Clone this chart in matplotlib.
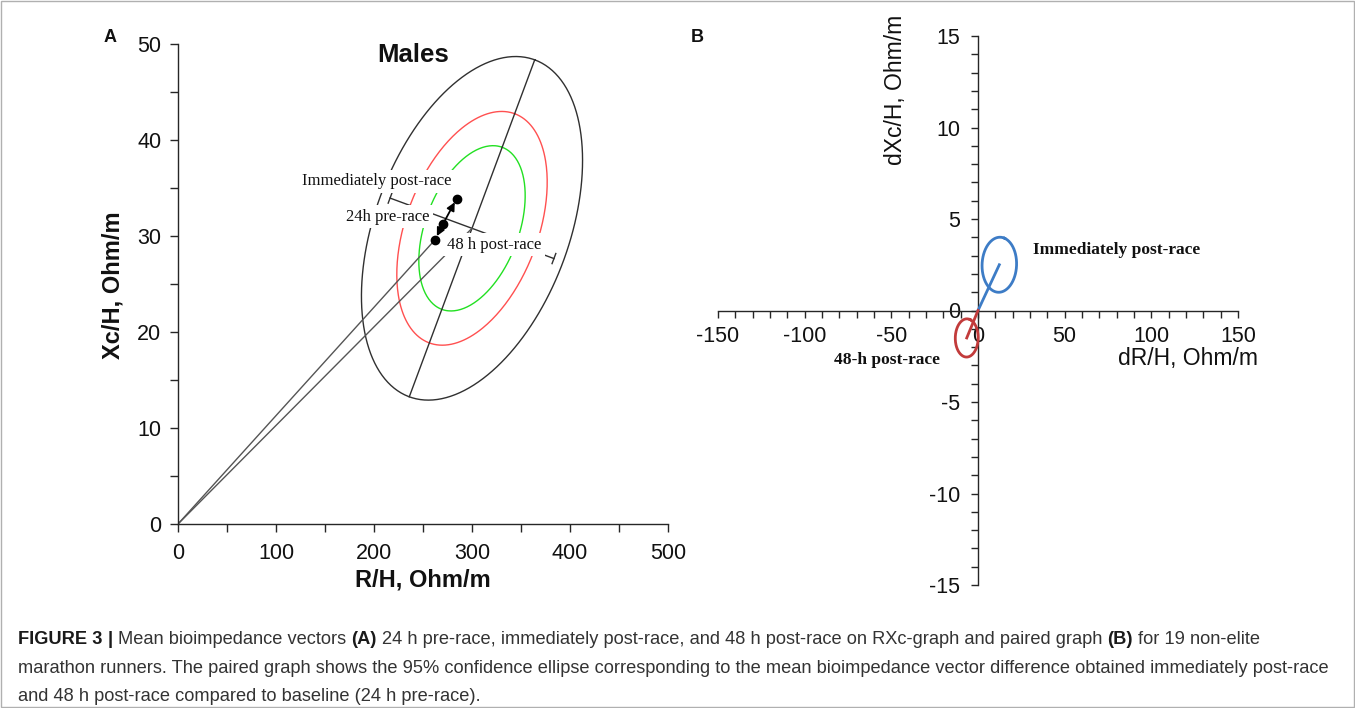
import numpy as np
import matplotlib
matplotlib.use('Agg')
import matplotlib.pyplot as plt
from matplotlib import font_manager
from matplotlib.ticker import MultipleLocator

# ---- panel A: mean vectors (24h pre, immediately post, 48h post) ----
visits = ['24h pre-race', 'Immediately post-race', '48 h post-race']
R_mean = [270.7, 284.4, 262.2]
Xc_mean = [31.3, 33.9, 29.6]

# reference tolerance ellipses (males), half axes of the 95% ellipse
ref_center = [300.0, 30.8]
ref_major = [64.0, 17.55]
ref_minor = [92.9, -3.5]
tol_levels = [0.50, 0.75, 0.95]
tol_colors = ['#22e022', '#ff5050', '#303030']

# ---- panel B: paired vector differences vs baseline ----
diff_names = ['Immediately post-race', '48-h post-race']
dR = [12.3, -6.5]
dXc = [2.5, -1.5]
conf_major = [[3.0, 1.45], [2.0, 1.0]]
conf_minor = [[9.5, -0.4], [6.3, -0.3]]
diff_colors = ['#3d7cc6', '#c23b3b']

W, H = 1355, 708
fig = plt.figure(figsize=(W / 100, H / 100), dpi=100)
plt.rcParams['font.family'] = ['Liberation Sans', 'DejaVu Sans']
plt.rcParams['axes.unicode_minus'] = False


def fx(px):
    return px / W


def fy(py):
    return 1 - py / H


def ellipse_xy(center, major, minor, scale=1.0, n=300):
    t = np.linspace(0, 2 * np.pi, n)
    x = center[0] + scale * (np.cos(t) * major[0] + np.sin(t) * minor[0])
    y = center[1] + scale * (np.cos(t) * major[1] + np.sin(t) * minor[1])
    return x, y


ink = '#262626'

# ================= panel A =================
axA = fig.add_axes([fx(178), fy(524), (668 - 178) / W, (524 - 44) / H])
axA.set_xlim(0, 500)
axA.set_ylim(0, 50)
for s in ['top', 'right']:
    axA.spines[s].set_visible(False)
for s in ['left', 'bottom']:
    axA.spines[s].set_color(ink)
    axA.spines[s].set_linewidth(1.0)
axA.xaxis.set_major_locator(MultipleLocator(100))
axA.xaxis.set_minor_locator(MultipleLocator(50))
axA.yaxis.set_major_locator(MultipleLocator(10))
axA.yaxis.set_minor_locator(MultipleLocator(5))
axA.tick_params(which='both', direction='out', length=6, width=1, color=ink)
axA.tick_params(axis='x', which='major', pad=8, labelsize=15.5, labelcolor='#111')
axA.tick_params(axis='y', which='major', pad=6, labelsize=15.5, labelcolor='#111')

k95 = np.sqrt(-2 * np.log(1 - 0.95))
for lev, col in zip(tol_levels, tol_colors):
    sc = np.sqrt(-2 * np.log(1 - lev)) / k95
    ex, ey = ellipse_xy(ref_center, ref_major, ref_minor, sc)
    axA.plot(ex, ey, color=col, lw=1.0, zorder=2)

# major axis of 95% ellipse
axA.plot([ref_center[0] - ref_major[0], ref_center[0] + ref_major[0]],
         [ref_center[1] - ref_major[1], ref_center[1] + ref_major[1]],
         color='#303030', lw=1.0, zorder=2)
# minor axis bar with end caps
mx = np.array(ref_minor) * 0.9
axA.plot([ref_center[0] - mx[0], ref_center[0] + mx[0]],
         [ref_center[1] - mx[1], ref_center[1] + mx[1]],
         color='#303030', lw=1.0, zorder=2)
cap = np.array(ref_major) * 0.03
for sgn in (-1, 1):
    ex0 = ref_center[0] + sgn * mx[0]
    ey0 = ref_center[1] + sgn * mx[1]
    axA.plot([ex0 - cap[0], ex0 + cap[0]], [ey0 - cap[1], ey0 + cap[1]],
             color='#303030', lw=1.0, zorder=2)

# vectors from the origin
axA.plot([0, R_mean[2]], [0, Xc_mean[2]], color='#555555', lw=1.0, zorder=2)
axA.plot([0, ref_center[0]], [0, ref_center[1]], color='#555555', lw=1.0, zorder=2)

# trajectory of the means
axA.plot(R_mean, Xc_mean, 'o', color='black', ms=6, zorder=4)
for j in (1, 2):
    axA.annotate('', xy=(R_mean[j], Xc_mean[j]), xytext=(R_mean[0], Xc_mean[0]),
                 arrowprops=dict(arrowstyle='-|>', color='black', lw=1.3,
                                 mutation_scale=12, shrinkA=0, shrinkB=3),
                 zorder=4)

serif = ['Liberation Serif', 'DejaVu Serif']
box = dict(facecolor='white', edgecolor='none', pad=2.5)
axA.text(203, 35.7, visits[1], family=serif, fontsize=12, ha='center', va='center',
         color='#111', bbox=box, zorder=3)
axA.text(214.3, 32.0, visits[0], family=serif, fontsize=12, ha='center', va='center',
         color='#111', bbox=box, zorder=3)
axA.text(322.4, 29.1, visits[2], family=serif, fontsize=12, ha='center', va='center',
         color='#111', bbox=box, zorder=3)

axA.text(240, 48.9, 'Males', fontsize=18.5, fontweight='bold', ha='center', va='center',
         color='#111')
fig.text(fx(423), fy(580), 'R/H, Ohm/m', fontsize=17, fontweight='bold',
         ha='center', va='center', color='#111')
fig.text(fx(113), fy(285), 'Xc/H, Ohm/m', fontsize=17, fontweight='bold',
         ha='center', va='center', rotation=90, color='#111')
fig.text(fx(110), fy(37), 'A', fontsize=13, fontweight='bold', ha='center',
         va='center', color='#111')

# ================= panel B =================
axB = fig.add_axes([fx(718), fy(585), (1238 - 718) / W, (585 - 36) / H])
axB.set_xlim(-150, 150)
axB.set_ylim(-15, 15)
for s in ['top', 'right']:
    axB.spines[s].set_visible(False)
for s in ['left', 'bottom']:
    axB.spines[s].set_position(('data', 0))
    axB.spines[s].set_color(ink)
    axB.spines[s].set_linewidth(1.0)
axB.xaxis.set_major_locator(MultipleLocator(50))
axB.xaxis.set_minor_locator(MultipleLocator(10))
axB.yaxis.set_major_locator(MultipleLocator(5))
axB.yaxis.set_minor_locator(MultipleLocator(1))
axB.tick_params(which='both', direction='out', length=5, width=1, color=ink)
axB.tick_params(axis='x', which='major', pad=6, labelsize=15.5, labelcolor='#111')
axB.tick_params(axis='y', which='major', pad=8, labelsize=15.5, labelcolor='#111')

for i in range(len(dR)):
    ex, ey = ellipse_xy([dR[i], dXc[i]], conf_major[i], conf_minor[i])
    axB.plot(ex, ey, color=diff_colors[i], lw=2.0, zorder=3)
    axB.plot([0, dR[i]], [0, dXc[i]], color=diff_colors[i], lw=2.0, zorder=3)

axB.text(80.2, 3.28, diff_names[0], family=serif, fontsize=12.5, fontweight='bold',
         ha='center', va='center', color='#111')
axB.text(-52.5, -2.73, diff_names[1], family=serif, fontsize=12.5, fontweight='bold',
         ha='center', va='center', color='#111')

fig.text(fx(1188), fy(359), 'dR/H, Ohm/m', fontsize=16.5, ha='center', va='center',
         color='#111')
fig.text(fx(895), fy(90), 'dXc/H, Ohm/m', fontsize=16.5, ha='center', va='center',
         rotation=90, color='#111')
fig.text(fx(697), fy(37), 'B', fontsize=13, fontweight='bold', ha='center',
         va='center', color='#111')

# ================= caption =================
cap_lines = [
    [('FIGURE 3', True), ('|', True), ('Mean bioimpedance vectors', False), ('(A)', True),
     ('24 h pre-race, immediately post-race, and 48 h post-race on RXc-graph and paired graph', False),
     ('(B)', True), ('for 19 non-elite', False)],
    [('marathon runners. The paired graph shows the 95% confidence ellipse corresponding '
      'to the mean bioimpedance vector difference obtained immediately post-race', False)],
    [('and 48 h post-race compared to baseline (24 h pre-race).', False)],
]
cap_base = [644, 673, 701]

try:
    font_manager.findfont(font_manager.FontProperties(family='Liberation Sans Narrow'),
                          fallback_to_default=False)
    cap_family = 'Liberation Sans Narrow'
except ValueError:
    cap_family = 'Liberation Sans'

renderer = fig.canvas.get_renderer()


def text_w(s, size, bold):
    t = fig.text(0, 0, s, fontsize=size, family=cap_family,
                 fontweight='bold' if bold else 'normal')
    w = t.get_window_extent(renderer).width
    t.remove()
    return w


# fit font size so the longest line spans the same width as the original
size0 = 12.0
w0 = text_w(cap_lines[1][0][0], size0, False)
cap_size = size0 * (1330 - 18) / w0
space_w = text_w('a a', cap_size, False) - text_w('aa', cap_size, False)

for parts, yb in zip(cap_lines, cap_base):
    x = 18.0
    for s, bold in parts:
        t = fig.text(fx(x), fy(yb), s, fontsize=cap_size, family=cap_family,
                     fontweight='bold' if bold else 'normal', va='baseline',
                     color='#1a1a1a' if bold else '#333333')
        x += t.get_window_extent(renderer).width + space_w

# thin frame around the figure
fig.patches.append(plt.Rectangle((0.0008, 0.001), 0.9984, 0.998, transform=fig.transFigure,
                                 fill=False, edgecolor='#b0b0b0', lw=1.0))

fig.savefig('out.png', dpi=100)
